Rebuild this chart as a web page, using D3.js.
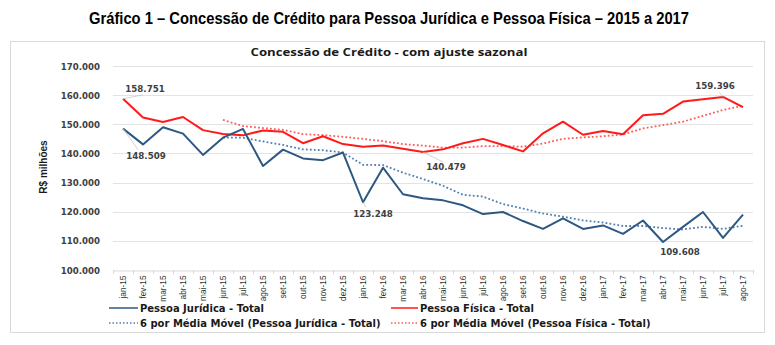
<!DOCTYPE html>
<html><head><meta charset="utf-8">
<script src="https://cdn.jsdelivr.net/npm/d3@7"></script>
<style>body{margin:0;background:#fff}svg{display:block}</style>
</head><body>
<svg id="chart" width="775" height="345"></svg>
<script>
const months = ["jan-15","fev-15","mar-15","abr-15","mai-15","jun-15","jul-15","ago-15","set-15","out-15","nov-15","dez-15",
"jan-16","fev-16","mar-16","abr-16","mai-16","jun-16","jul-16","ago-16","set-16","out-16","nov-16","dez-16",
"jan-17","fev-17","mar-17","abr-17","mai-17","jun-17","jul-17","ago-17"];
const pessoaJuridica = [148509,143100,149000,146800,139500,145400,148400,135700,141300,138300,137700,140300,
123248,135100,126000,124600,123900,122200,119200,119900,116800,114100,117700,114100,
115300,112400,117000,109608,114800,119900,111000,119000];
const pessoaFisica = [158751,152300,150800,152500,148000,146700,146200,147900,147400,143500,145900,143200,
142300,142700,141600,140479,141400,143500,145000,142900,140700,146900,150900,146400,
147700,146600,153100,153600,157800,158600,159396,155900];
const mediaMovelPJ = [null,null,null,null,null,145400,145400,144100,142900,141400,141100,140300,
136100,136000,133400,131200,128900,125800,125200,122600,121100,119400,118300,117000,
116300,115100,115100,114400,113900,114800,114100,115200];
const mediaMovelPF = [null,null,null,null,null,151500,149400,148700,148100,146600,146300,145700,
145000,144200,143200,142700,142000,142000,142500,142500,142300,143400,145000,145500,
145900,146500,148600,149700,150900,152900,154900,156400];
const yTicks = [100000,110000,120000,130000,140000,150000,160000,170000];
const seriesNames = ["Pessoa Jurídica - Total","Pessoa Física - Total",
  "6 por Média Móvel (Pessoa Jurídica - Total)","6 por Média Móvel (Pessoa Física - Total)"];
const annotated = [
  {s:"pf", i:0}, {s:"pj", i:0}, {s:"pf", i:15}, {s:"pj", i:12}, {s:"pj", i:27}, {s:"pf", i:30}
];
// label placement (style)
const annoPos = [
  {dx:22, dy:-10, lx:20, ly:-4},
  {dx:23, dy:27, lx:15, ly:21},
  {dx:23, dy:15, lx:20, ly:10},
  {dx:10, dy:12, lx:3, ly:5},
  {dx:17, dy:10, lx:0, ly:0},
  {dx:-8, dy:-11, lx:-4, ly:-5}
];

const loc = d3.formatLocale({decimal:",", thousands:".", grouping:[3], currency:["R$",""]});
const fmt = loc.format(",.0f");

const svg = d3.select("#chart");
const BLUE = "#2d5882", RED = "#ff1a1a", BLUE_D = "#4f7eb3", RED_D = "#ff5a5a";

svg.append("text").attr("x",389).attr("y",24).attr("text-anchor","middle")
  .attr("font-family","'Liberation Sans Narrow','Arial Narrow','Liberation Sans',Arial,sans-serif")
  .attr("font-weight","bold").attr("font-size",16.5).attr("fill","#000")
  .attr("textLength",600).attr("lengthAdjust","spacingAndGlyphs")
  .text("Gráfico 1 – Concessão de Crédito para Pessoa Jurídica e Pessoa Física – 2015 a 2017");

svg.append("rect").attr("x",10.5).attr("y",41.5).attr("width",754).attr("height",291)
  .attr("fill","#fff").attr("stroke","#d9d9d9");

svg.append("text").attr("x",389).attr("y",56).attr("text-anchor","middle")
  .attr("font-family","'Open Sans',Lato,sans-serif").attr("font-weight","bold").attr("font-size",10.5)
  .attr("fill","#1a1a1a").attr("textLength",277).attr("lengthAdjust","spacingAndGlyphs")
  .text("Concessão de Crédito  - com ajuste sazonal");

const x = d3.scaleBand().domain(months).range([113,753]);
const y = d3.scaleLinear().domain([100000,170000]).range([270,66]);
const cx = m => x(m) + x.bandwidth()/2;

// gridlines
svg.append("g").selectAll("line").data(yTicks.slice(1)).join("line")
  .attr("x1",113).attr("x2",753).attr("y1",d=>Math.round(y(d))+0.5).attr("y2",d=>Math.round(y(d))+0.5)
  .attr("stroke","#e3e3e3").attr("stroke-width",1);

// y axis labels
const yAxis = svg.append("g").attr("transform","translate(108,0)")
  .call(d3.axisLeft(y).tickValues(yTicks).tickFormat(fmt).tickSize(0).tickPadding(8));
yAxis.select(".domain").remove();
yAxis.selectAll("text").attr("font-family","'DejaVu Sans',Verdana,sans-serif").attr("font-weight","bold")
  .attr("font-size",8.6).attr("fill","#404040").attr("dy","0.35em");

// x axis
const xAxis = svg.append("g").attr("transform","translate(0,270.5)")
  .call(d3.axisBottom(x).tickSize(0).tickPadding(0));
xAxis.select(".domain").attr("stroke","#d9d9d9");
xAxis.selectAll("text").attr("transform","rotate(-90)").attr("text-anchor","end")
  .attr("x",-5).attr("y",0).attr("dy","0.33em")
  .attr("font-family","'Liberation Sans Narrow','Arial Narrow',sans-serif").attr("font-size",8.3).attr("fill","#333");
// category separators
svg.append("g").selectAll("line").data(months.concat(["end"])).join("line")
  .attr("x1",(d,i)=>Math.round(113+i*x.step())+0.5).attr("x2",(d,i)=>Math.round(113+i*x.step())+0.5)
  .attr("y1",270).attr("y2",274).attr("stroke","#d9d9d9");

svg.append("text").attr("transform","translate(47,167) rotate(-90)").attr("text-anchor","middle")
  .attr("font-family","'Liberation Sans Narrow','Arial Narrow',sans-serif").attr("font-weight","bold")
  .attr("font-size",10).attr("fill","#1a1a1a").text("R$ milhões");

const line = d3.line().defined(d=>d.v!=null).x(d=>cx(d.m)).y(d=>y(d.v));
const toPts = arr => arr.map((v,i)=>({m:months[i], v}));

svg.append("path").datum(toPts(mediaMovelPF)).attr("d",line).attr("fill","none")
  .attr("stroke",RED_D).attr("stroke-width",1.8).attr("stroke-dasharray","1.8,2.2");
svg.append("path").datum(toPts(mediaMovelPJ)).attr("d",line).attr("fill","none")
  .attr("stroke",BLUE_D).attr("stroke-width",1.8).attr("stroke-dasharray","1.8,2.2");
svg.append("path").datum(toPts(pessoaFisica)).attr("d",line).attr("fill","none")
  .attr("stroke",RED).attr("stroke-width",2).attr("stroke-linejoin","round");
svg.append("path").datum(toPts(pessoaJuridica)).attr("d",line).attr("fill","none")
  .attr("stroke",BLUE).attr("stroke-width",2).attr("stroke-linejoin","round");

// annotations
annotated.forEach((a,k)=>{
  const arr = a.s==="pj" ? pessoaJuridica : pessoaFisica;
  const px = cx(months[a.i]), py = y(arr[a.i]);
  const p = annoPos[k];
  if (p.lx || p.ly) {
    svg.append("line").attr("x1",px).attr("y1",py).attr("x2",px+p.lx).attr("y2",py+p.ly)
      .attr("stroke","#c8c8c8").attr("stroke-width",0.8);
  }
  svg.append("text").attr("x",px+p.dx).attr("y",py+p.dy).attr("text-anchor","middle").attr("dy","0.35em")
    .attr("font-family","'DejaVu Sans',Verdana,sans-serif").attr("font-weight","bold")
    .attr("font-size",8.7).attr("fill","#404040").text(fmt(arr[a.i]));
});

// legend
const legend = [
  {name:seriesNames[0], c:BLUE, dash:null, x:109, y:308},
  {name:seriesNames[1], c:RED, dash:null, x:391, y:308},
  {name:seriesNames[2], c:BLUE_D, dash:"1.5,2", x:109, y:323},
  {name:seriesNames[3], c:RED_D, dash:"1.5,2", x:391, y:323}
];
const lg = svg.append("g").selectAll("g").data(legend).join("g")
  .attr("transform",d=>`translate(${d.x},${d.y})`);
lg.append("line").attr("x1",0).attr("x2",d=>d.x<200?29:27).attr("y1",0).attr("y2",0)
  .attr("stroke",d=>d.c).attr("stroke-width",1.5).attr("stroke-dasharray",d=>d.dash);
lg.append("text").attr("x",d=>d.x<200?31:29).attr("y",0).attr("dy","0.35em")
  .attr("font-family","'DejaVu Sans',Verdana,sans-serif").attr("font-weight","bold")
  .attr("font-size",10).attr("fill","#1a1a1a").text(d=>d.name);
</script>
</body></html>
